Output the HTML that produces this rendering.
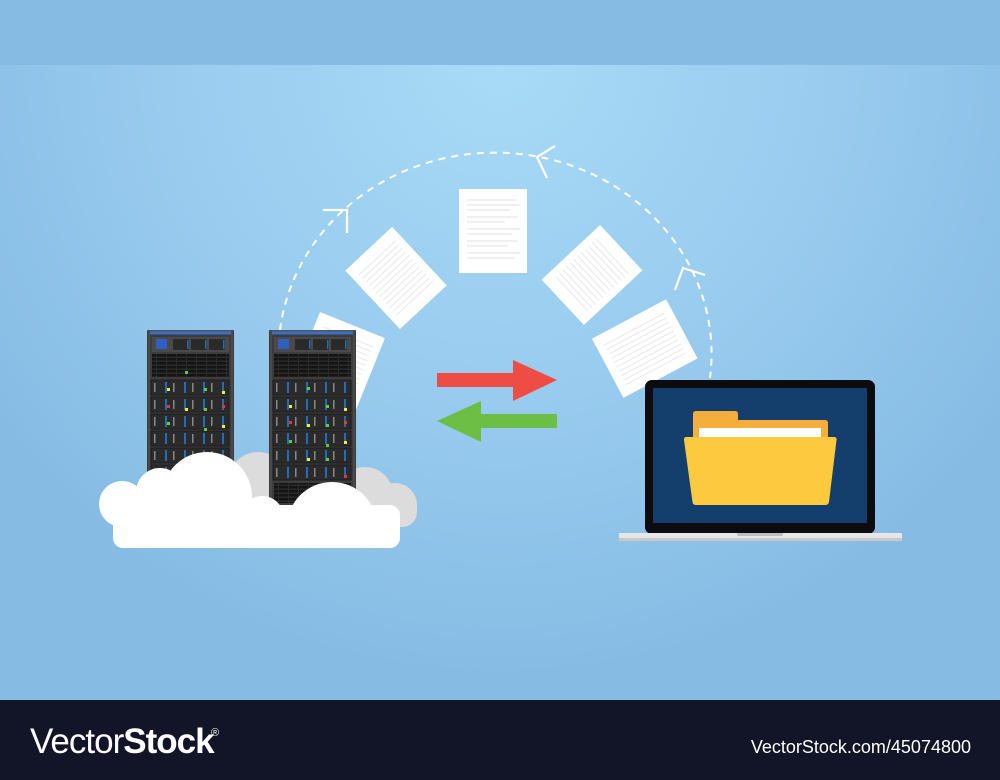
<!DOCTYPE html>
<html><head><meta charset="utf-8"><style>
html,body{margin:0;padding:0;width:1000px;height:780px;overflow:hidden;background:#121428}
</style></head><body>
<svg width="1000" height="780" viewBox="0 0 1000 780" xmlns="http://www.w3.org/2000/svg">
<defs>
<radialGradient id="bg" cx="500" cy="60" r="620" gradientUnits="userSpaceOnUse">
<stop offset="0" stop-color="#a8dbf6"/><stop offset="0.55" stop-color="#98cbee"/><stop offset="1" stop-color="#86bce4"/>
</radialGradient>
<pattern id="vent" x="0" y="0" width="10" height="4" patternUnits="userSpaceOnUse">
<rect width="10" height="4" fill="#2a2a2a"/><rect x="0" y="0" width="9" height="2.5" fill="#141414"/>
</pattern>
<pattern id="lines" x="0" y="0" width="60" height="5" patternUnits="userSpaceOnUse">
<rect width="60" height="5" fill="#fff"/><rect x="0" y="2" width="60" height="1" fill="#e8e8e8"/>
</pattern>
<clipPath id="cl"><rect x="0" y="0" width="1000" height="548"/></clipPath>
<clipPath id="cb"><rect x="0" y="0" width="1000" height="527"/></clipPath>
<g id="slot">
<rect x="0" y="0" width="78" height="15" fill="#2b2b2b" stroke="#1a1a1a" stroke-width="0.8"/>
<rect x="3" y="3" width="1.5" height="9" fill="#888"/><rect x="22" y="3" width="1.5" height="9" fill="#888"/>
<rect x="41" y="3" width="1.5" height="9" fill="#888"/><rect x="60" y="3" width="1.5" height="9" fill="#888"/>
<rect x="14" y="2" width="2" height="11" fill="#1f6fb8"/><rect x="33" y="2" width="2" height="11" fill="#1f6fb8"/>
<rect x="52" y="2" width="2" height="11" fill="#1f6fb8"/><rect x="71" y="2" width="2" height="11" fill="#1f6fb8"/>
</g>
<g id="rack">
<rect x="0" y="0" width="87" height="175" fill="#3c3c3c"/>
<rect x="0" y="0" width="87" height="1.5" fill="#555"/>
<rect x="3" y="1.5" width="81" height="3" fill="#3a6fc4"/>
<rect x="5" y="7" width="77" height="15" fill="#4a4a4a"/>
<rect x="9" y="9" width="11" height="10" fill="#2f5fc0"/>
<rect x="26" y="9" width="16" height="11" fill="#2a2a2a"/><rect x="44" y="9" width="16" height="11" fill="#2a2a2a"/><rect x="62" y="9" width="16" height="11" fill="#2a2a2a"/>
<rect x="40" y="10" width="1.5" height="9" fill="#1f6fb8"/><rect x="58" y="10" width="1.5" height="9" fill="#1f6fb8"/><rect x="76" y="10" width="1.5" height="9" fill="#1f6fb8"/>
<rect x="5" y="24" width="77" height="23" fill="url(#vent)"/>
<use href="#slot" x="4" y="50"/><use href="#slot" x="4" y="67"/><use href="#slot" x="4" y="84"/>
<use href="#slot" x="4" y="101"/><use href="#slot" x="4" y="118"/><use href="#slot" x="4" y="135"/>
<rect x="5" y="153" width="77" height="20" fill="url(#vent)"/>
<rect x="1" y="0" width="2" height="175" fill="#4a4a4a"/><rect x="84" y="0" width="2" height="175" fill="#4a4a4a"/>
</g>
</defs>
<rect width="1000" height="700" fill="url(#bg)"/>
<rect width="1000" height="65" fill="#86bce4"/>
<rect y="700" width="1000" height="80" fill="#121428"/>

<path d="M280 330 A 215 200 0 0 1 710 378" fill="none" stroke="#fff" stroke-width="2" stroke-dasharray="7 6"/>
<g stroke="#fff" stroke-width="2.2" fill="none">
<path d="M323 210 L347 210 L347 233"/>
<path d="M555 146 L537 157 L547 178"/>
<path d="M705 275 L683 268 L675 290"/>
</g>

<g fill="#fff">
<g transform="translate(320 312) rotate(22)"><rect width="70" height="84" fill="#fff"/><rect x="8" y="8" width="54" height="68" fill="url(#lines)"/></g>
<g transform="translate(396 278) rotate(-43)"><rect x="-32" y="-40" width="64" height="80" fill="#fff"/><rect x="-25" y="-32" width="50" height="64" fill="url(#lines)"/></g>
<rect x="459" y="189" width="68" height="84"/>
<g transform="translate(592 275) rotate(47)"><rect x="-31" y="-40" width="62" height="80" fill="#fff"/><rect x="-24" y="-32" width="48" height="64" fill="url(#lines)"/></g>
<g transform="translate(645 349) rotate(-28)"><rect x="-42" y="-34" width="84" height="67" fill="#fff"/><rect x="-34" y="-27" width="68" height="53" fill="url(#lines)"/></g>
</g>
<g stroke="#e2e2e2" stroke-width="1">
<path d="M467 200H515M467 205H520M467 210H510M467 217H518M467 222H505M467 229H520M467 234H512M467 241H518M467 246H508M467 253H520M467 258H514"/>
</g>

<g fill="#dcdcdc" clip-path="url(#cb)">
<circle cx="258" cy="482" r="30"/><circle cx="365" cy="495" r="28"/><circle cx="395" cy="505" r="22"/>
<rect x="240" y="490" width="177" height="37" rx="15"/>
</g>

<use href="#rack" x="147" y="330"/>
<use href="#rack" x="269" y="330"/>
<g>
<rect x="185" y="371" width="3" height="3" fill="#6c3"/><rect x="167" y="388" width="3" height="3" fill="#ee3"/><rect x="204" y="388" width="3" height="3" fill="#6c3"/><rect x="222" y="391" width="3" height="3" fill="#ee3"/>
<rect x="167" y="405" width="3" height="3" fill="#e33"/><rect x="185" y="408" width="3" height="3" fill="#ee3"/><rect x="204" y="408" width="3" height="3" fill="#6c3"/><rect x="222" y="405" width="3" height="3" fill="#e33"/>
<rect x="167" y="422" width="3" height="3" fill="#6c3"/><rect x="204" y="428" width="3" height="3" fill="#6c3"/><rect x="222" y="425" width="3" height="3" fill="#ee3"/>
<rect x="307" y="387" width="3" height="3" fill="#6c3"/><rect x="289" y="405" width="3" height="3" fill="#ee3"/><rect x="326" y="405" width="3" height="3" fill="#6c3"/><rect x="344" y="408" width="3" height="3" fill="#ee3"/>
<rect x="289" y="421" width="3" height="3" fill="#e33"/><rect x="307" y="424" width="3" height="3" fill="#ee3"/><rect x="326" y="424" width="3" height="3" fill="#6c3"/><rect x="344" y="421" width="3" height="3" fill="#e33"/>
<rect x="289" y="440" width="3" height="3" fill="#6c3"/><rect x="326" y="444" width="3" height="3" fill="#6c3"/><rect x="344" y="441" width="3" height="3" fill="#ee3"/>
<rect x="307" y="458" width="3" height="3" fill="#ee3"/><rect x="326" y="458" width="3" height="3" fill="#6c3"/><rect x="344" y="475" width="3" height="3" fill="#e33"/>
</g>

<g fill="#fff" clip-path="url(#cl)">
<circle cx="122" cy="504" r="23"/><circle cx="160" cy="492" r="24"/><circle cx="207" cy="497" r="45"/>
<circle cx="262" cy="518" r="22"/><circle cx="332" cy="527" r="45"/><circle cx="383" cy="532" r="17"/>
<rect x="113" y="505" width="287" height="43" rx="10"/>
</g>

<path d="M437 373H513V360L557 380L513 401V387H437Z" fill="#ef4c43"/>
<path d="M557 414H481V401L437 421L481 442V428H557Z" fill="#6cbf45"/>

<rect x="645" y="380" width="230" height="154" rx="7" fill="#0c0c0e"/>
<rect x="653" y="388" width="214" height="135" fill="#143f6c"/>
<path d="M619 533H902V538Q902 541 898 541H623Q619 541 619 538Z" fill="#e6e6e6"/>
<rect x="619" y="538" width="283" height="3" fill="#c9c9c9"/>
<rect x="737" y="533" width="46" height="3" rx="1.5" fill="#bdbdbd"/>
<path d="M693 414Q693 411 696 411H735Q738 411 738 414V420H825Q828 420 828 423V440H693Z" fill="#f5ad3c"/>
<rect x="699" y="428" width="122" height="10" fill="#fff"/>
<path d="M686 437H834Q837 437 836.5 440L829 502Q828.5 505 825 505H696Q693 505 692.5 502L684 440Q684 437 686 437Z" fill="#fdc93f"/>

<text x="30" y="753" font-family="Liberation Sans, sans-serif" font-size="35" fill="#fff" letter-spacing="-1"><tspan font-weight="300">Vector</tspan><tspan font-weight="bold">Stock</tspan></text>
<text x="211" y="736" font-family="Liberation Sans, sans-serif" font-size="11" fill="#fff">®</text>
<text x="971" y="753" text-anchor="end" font-family="Liberation Sans, sans-serif" font-size="18" fill="#fff">VectorStock.com/45074800</text>
</svg>
</body></html>
